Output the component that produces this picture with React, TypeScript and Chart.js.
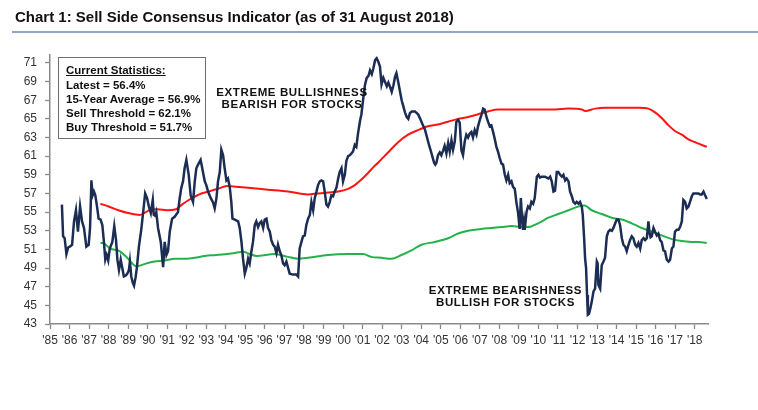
import React, { useEffect, useRef } from "react";
import { Chart, registerables } from "chart.js";
Chart.register(...registerables);

const indicatorYears = [
  1985.61, 1985.67, 1985.75, 1985.84, 1985.93, 1986.01, 1986.13, 1986.23, 1986.33, 1986.43, 1986.54, 1986.64, 1986.74, 1986.86, 1986.98,
  1987.05, 1987.12, 1987.18, 1987.25, 1987.32, 1987.42, 1987.49, 1987.59, 1987.68, 1987.76, 1987.83, 1987.9, 1987.98,
  1988.06, 1988.19, 1988.29, 1988.38, 1988.45, 1988.53, 1988.62, 1988.7, 1988.78, 1988.88, 1988.96,
  1989.04, 1989.09, 1989.16, 1989.24, 1989.3, 1989.38, 1989.45, 1989.55, 1989.67, 1989.79, 1989.87, 1989.97,
  1990.06, 1990.16, 1990.26, 1990.31, 1990.38, 1990.44, 1990.53, 1990.67, 1990.79, 1990.87, 1990.96,
  1991.04, 1991.13, 1991.25, 1991.38, 1991.55, 1991.64, 1991.72, 1991.81, 1991.89, 1991.98,
  1992.1, 1992.2, 1992.32, 1992.41, 1992.49, 1992.58, 1992.71, 1992.83, 1992.92,
  1993.0, 1993.09, 1993.23, 1993.35, 1993.43, 1993.52, 1993.6, 1993.69, 1993.77, 1993.86, 1993.94,
  1994.03, 1994.11, 1994.2, 1994.28, 1994.34, 1994.46, 1994.63, 1994.71, 1994.8, 1994.88, 1994.97,
  1995.05, 1995.14, 1995.22, 1995.31, 1995.39, 1995.48, 1995.56, 1995.65, 1995.73, 1995.82, 1995.91, 1995.99,
  1996.08, 1996.16, 1996.25, 1996.33, 1996.42, 1996.5, 1996.59, 1996.67, 1996.76, 1996.84, 1996.93,
  1997.01, 1997.1, 1997.19, 1997.27, 1997.44, 1997.61, 1997.7, 1997.78, 1997.87, 1997.95,
  1998.04, 1998.12, 1998.21, 1998.3, 1998.38, 1998.47, 1998.55, 1998.64, 1998.72, 1998.81, 1998.89, 1998.98,
  1999.06, 1999.15, 1999.23, 1999.32, 1999.4, 1999.49, 1999.57, 1999.66, 1999.75, 1999.83, 1999.92,
  2000.0, 2000.09, 2000.17, 2000.26, 2000.34, 2000.43, 2000.51, 2000.6, 2000.68, 2000.77, 2000.87, 2000.94,
  2001.04, 2001.12, 2001.21, 2001.3, 2001.38, 2001.47, 2001.55, 2001.64, 2001.72, 2001.81, 2001.89, 2001.97,
  2002.06, 2002.14, 2002.24, 2002.32, 2002.41, 2002.49, 2002.58, 2002.66, 2002.73, 2002.83, 2002.91,
  2003.0, 2003.08, 2003.17, 2003.26, 2003.34, 2003.42, 2003.52, 2003.68, 2003.84, 2003.95,
  2004.05, 2004.2, 2004.3, 2004.4, 2004.5, 2004.58, 2004.66, 2004.72, 2004.78, 2004.86, 2004.95,
  2005.03, 2005.12, 2005.2, 2005.29, 2005.38, 2005.46, 2005.55, 2005.63, 2005.72, 2005.8, 2005.89, 2005.97,
  2006.06, 2006.14, 2006.23, 2006.31, 2006.4, 2006.48, 2006.57, 2006.65, 2006.74, 2006.83, 2006.91,
  2007.0, 2007.08, 2007.17, 2007.25, 2007.34, 2007.42, 2007.51, 2007.59, 2007.68, 2007.76, 2007.85, 2007.93,
  2008.02, 2008.11, 2008.19, 2008.28, 2008.36, 2008.45, 2008.53, 2008.62, 2008.7, 2008.79, 2008.87, 2008.96,
  2009.04, 2009.1, 2009.15, 2009.21, 2009.26, 2009.3, 2009.39, 2009.47, 2009.56, 2009.64, 2009.73, 2009.81, 2009.92,
  2010.0, 2010.08, 2010.17, 2010.34, 2010.51, 2010.6, 2010.68, 2010.77, 2010.85, 2010.94,
  2011.02, 2011.11, 2011.2, 2011.28, 2011.37, 2011.45, 2011.54, 2011.62, 2011.71, 2011.79, 2011.88, 2011.96,
  2012.05, 2012.13, 2012.22, 2012.27, 2012.34, 2012.39, 2012.44, 2012.49, 2012.53, 2012.59, 2012.66, 2012.73, 2012.82, 2012.9, 2012.99,
  2013.03, 2013.07, 2013.16, 2013.24, 2013.33, 2013.41, 2013.5, 2013.58, 2013.67, 2013.76, 2013.84, 2013.93,
  2014.01, 2014.1, 2014.18, 2014.27, 2014.35, 2014.44, 2014.52, 2014.61, 2014.69, 2014.78, 2014.86, 2014.95,
  2015.03, 2015.12, 2015.21, 2015.29, 2015.38, 2015.46, 2015.55, 2015.63, 2015.68, 2015.74, 2015.8, 2015.89, 2015.97,
  2016.06, 2016.14, 2016.23, 2016.31, 2016.4, 2016.48, 2016.57, 2016.66, 2016.74, 2016.83, 2016.91, 2016.99,
  2017.08, 2017.17, 2017.25, 2017.34, 2017.42, 2017.51, 2017.59, 2017.68, 2017.76, 2017.85, 2017.93,
  2018.02, 2018.19, 2018.27, 2018.36, 2018.45, 2018.53, 2018.62,
];
const indicatorValues = [
  55.8, 52.4, 52.2, 50.5, 51.2, 51.3, 51.5, 54.0, 55.2, 52.9, 55.6, 54.0, 53.3, 51.3, 51.5,
  53.3, 58.4, 56.8, 57.2, 56.8, 55.4, 54.3, 54.2, 53.6, 51.8, 49.9, 50.4, 49.8,
  51.1, 51.8, 53.5, 52.0, 49.9, 48.8, 49.9, 49.0, 48.1, 48.2, 48.4,
  48.8, 49.7, 48.1, 47.4, 47.1, 48.0, 49.1, 51.3, 53.1, 55.4, 57.0, 56.5,
  55.6, 54.9, 56.3, 54.7, 54.6, 55.0, 53.3, 51.8, 49.1, 51.8, 50.4,
  50.8, 52.9, 54.3, 54.5, 55.0, 56.5, 57.6, 58.3, 59.7, 60.6,
  59.0, 56.8, 56.1, 58.3, 59.7, 60.1, 60.6, 59.3, 58.3,
  57.9, 57.2, 56.5, 56.0, 55.4, 56.5, 58.3, 59.3, 61.7, 61.1, 59.7,
  58.4, 58.6, 57.7, 56.1, 54.3, 54.2, 54.0, 53.3, 51.8, 50.0, 48.4,
  49.0, 50.0, 49.5, 50.8, 51.8, 53.6, 54.0, 53.4, 53.8, 54.0, 53.3, 54.2,
  54.3, 53.3, 52.9, 52.0, 51.5, 51.3, 50.6, 51.5, 50.8, 50.4, 49.5,
  49.3, 49.7, 49.0, 48.4, 48.3, 48.3, 48.1, 51.1, 51.8, 52.4,
  52.5, 53.6, 54.3, 54.7, 56.1, 55.2, 56.5, 57.2, 57.9, 58.3, 58.4, 58.3,
  57.2, 55.8, 55.6, 56.1, 56.8, 56.7, 57.2, 57.6, 58.6, 59.3, 59.7,
  58.3, 59.0, 60.5, 61.0, 61.1, 61.3, 61.5, 62.2, 62.0, 63.5, 64.8, 65.5,
  67.3, 68.6, 69.4, 69.6, 70.2, 69.8, 70.4, 71.3, 71.5, 71.1, 70.6, 68.7,
  69.4, 69.0, 68.5, 68.9, 68.4, 67.9, 68.6, 69.5, 69.9, 68.9, 68.0,
  67.0, 66.4, 65.7, 65.2, 65.0, 65.6, 65.8, 65.8, 65.5, 65.0,
  64.5, 63.8, 63.0, 62.2, 61.5, 60.9, 60.3, 60.1, 60.3, 61.1, 61.4,
  61.1, 61.6, 62.1, 61.3, 62.4, 61.5, 62.7, 61.7, 62.6, 64.7, 64.9, 64.6,
  61.6, 61.1, 62.6, 63.3, 63.0, 63.4, 63.6, 63.0, 63.8, 63.3, 64.2,
  64.9, 65.4, 66.1, 66.0, 65.2, 64.7, 64.2, 64.3, 63.6, 62.9, 62.0, 61.5,
  60.8, 60.2, 60.1, 59.0, 58.4, 59.0, 58.1, 58.3, 57.7, 57.5, 56.1, 54.9,
  53.2, 56.5, 54.7, 53.1, 54.0, 53.1, 55.0, 55.6, 55.4, 56.1, 55.9, 56.5, 58.8,
  59.0, 58.7, 58.8, 58.8, 58.6, 58.8, 58.3, 57.2, 57.3, 59.3,
  59.3, 59.0, 58.8, 59.0, 58.4, 58.6, 58.3, 57.2, 56.7, 56.1, 55.9, 56.1,
  55.9, 56.1, 55.6, 54.7, 52.2, 50.0, 49.0, 46.1, 44.0, 44.1, 44.7, 45.4, 46.5, 46.8, 49.7,
  49.5, 47.2, 46.8, 49.3, 49.7, 50.1, 52.4, 52.9, 53.1, 53.0, 53.3, 53.8,
  54.2, 54.2, 53.6, 52.2, 51.5, 51.3, 50.8, 51.5, 52.0, 52.4, 52.2, 51.5,
  51.3, 51.7, 51.1, 52.0, 52.2, 52.0, 52.2, 54.0, 52.9, 52.3, 52.4, 53.3, 52.9,
  52.5, 52.7, 52.0, 51.8, 50.9, 50.8, 49.9, 49.7, 49.9, 51.1, 51.3, 52.9,
  53.1, 53.1, 53.4, 54.0, 56.3, 56.1, 55.4, 55.6, 56.1, 56.7, 57.0,
  57.0, 57.0, 56.9, 56.9, 57.2, 56.8, 56.4,
];

const sellYears = [
  1987.58, 1988.0, 1988.5, 1989.0, 1989.6, 1989.9, 1990.2, 1990.5, 1991.0, 1991.45, 1991.75, 1992.1, 1992.45, 1992.75,
  1993.1, 1993.6, 1994.05, 1994.6, 1995.14, 1996.16, 1997.18, 1998.21, 1998.72, 1999.23, 1999.75, 2000.26, 2000.6,
  2000.94, 2001.28, 2001.54, 2001.79, 2002.3, 2002.82, 2003.33, 2003.84, 2004.35, 2004.86, 2005.38, 2005.89, 2006.4,
  2006.91, 2007.42, 2007.93, 2008.45, 2008.96, 2009.47, 2009.98, 2010.85, 2011.54, 2012.22, 2012.39, 2012.9, 2013.41,
  2014.44, 2015.12, 2015.63, 2015.97, 2016.31, 2016.66, 2016.99, 2017.34, 2017.68, 2018.02, 2018.36, 2018.62,
];
const sellValues = [
  55.9, 55.6, 55.2, 54.9, 54.7, 55.0, 55.3, 55.3, 55.2, 55.3, 55.8, 56.3, 56.7, 57.0,
  57.2, 57.5, 57.8, 57.7, 57.6, 57.4, 57.2, 56.9, 57.0, 57.1, 57.2, 57.5, 57.9,
  58.5, 59.2, 59.8, 60.3, 61.4, 62.5, 63.3, 63.8, 64.2, 64.4, 64.7, 65.0, 65.2,
  65.5, 65.8, 66.0, 66.0, 66.0, 66.0, 66.0, 66.0, 66.1, 66.0, 65.85, 66.1, 66.2,
  66.2, 66.2, 66.1, 65.7, 65.1, 64.3, 63.7, 63.3, 62.8, 62.5, 62.2, 62.0,
];

const buyYears = [
  1987.58, 1987.8, 1988.07, 1988.58, 1989.0, 1989.42, 1989.94, 1990.36, 1990.87, 1991.38, 1992.0, 1992.41, 1992.92,
  1993.5, 1994.38, 1994.89, 1995.23, 1995.57, 1996.5, 1997.18, 1997.7, 1998.21, 1999.23, 2000.26, 2001.03, 2001.45,
  2001.96, 2002.47, 2002.99, 2003.5, 2004.01, 2004.69, 2005.38, 2005.89, 2006.4, 2007.08, 2007.59, 2008.11, 2008.62,
  2009.13, 2009.47, 2009.98, 2010.17, 2010.51, 2011.02, 2011.54, 2012.05, 2012.36, 2012.73, 2013.24, 2013.75, 2014.27,
  2014.78, 2015.29, 2015.8, 2016.31, 2016.83, 2017.34, 2017.85, 2018.36, 2018.62,
];
const buyValues = [
  51.7, 51.6, 51.1, 50.8, 50.0, 49.2, 49.5, 49.7, 49.8, 50.0, 50.0, 50.1, 50.3,
  50.4, 50.6, 50.75, 50.5, 50.3, 50.5, 50.2, 50.0, 50.1, 50.4, 50.5, 50.5, 50.2,
  50.1, 50.0, 50.4, 50.9, 51.5, 51.8, 52.2, 52.7, 53.0, 53.2, 53.3, 53.4, 53.5,
  53.4, 53.4, 53.8, 54.0, 54.4, 54.8, 55.2, 55.6, 55.7, 55.2, 54.8, 54.4, 54.2,
  53.8, 53.3, 52.9, 52.5, 52.1, 51.9, 51.8, 51.76, 51.7,
];

const yTicks = [43, 45, 47, 49, 51, 53, 55, 57, 59, 61, 63, 65, 67, 69, 71];
const xTickYears = [
  1985, 1986, 1987, 1988, 1989, 1990, 1991, 1992, 1993, 1994, 1995, 1996, 1997, 1998, 1999, 2000, 2001,
  2002, 2003, 2004, 2005, 2006, 2007, 2008, 2009, 2010, 2011, 2012, 2013, 2014, 2015, 2016, 2017, 2018,
];
const xTickLabels = [
  "'85", "'86", "'87", "'88", "'89", "'90", "'91", "'92", "'93", "'94", "'95", "'96", "'97", "'98", "'99", "'00", "'01",
  "'02", "'03", "'04", "'05", "'06", "'07", "'08", "'09", "'10", "'11", "'12", "'13", "'14", "'15", "'16", "'17", "'18",
];

const titleText = "Chart 1: Sell Side Consensus Indicator (as of 31 August 2018)";
const statsTitle = "Current Statistics:";
const statsLines = [
  "Latest = 56.4%",
  "15-Year Average = 56.9%",
  "Sell Threshold = 62.1%",
  "Buy Threshold = 51.7%",
];
const noteTop = ["EXTREME BULLISHNESS", "BEARISH FOR STOCKS"];
const noteBottom = ["EXTREME BEARISHNESS", "BULLISH FOR STOCKS"];

const FONT = "'Liberation Sans', Arial, Helvetica, sans-serif";

function toPoints(xs: number[], ys: number[]) {
  return xs.map((x, i) => ({ x, y: ys[i] }));
}

export default function App() {
  const canvasRef = useRef<HTMLCanvasElement | null>(null);

  useEffect(() => {
    const canvas = canvasRef.current;
    if (!canvas) return;
    const chart = new Chart(canvas, {
      type: "line",
      data: {
        datasets: [
          {
            data: toPoints(indicatorYears, indicatorValues),
            borderColor: "#1b2d52",
            borderWidth: 2.5,
            pointRadius: 0,
            tension: 0,
            fill: false,
          },
          {
            data: toPoints(sellYears, sellValues),
            borderColor: "#ff1414",
            borderWidth: 2,
            pointRadius: 0,
            cubicInterpolationMode: "monotone",
            fill: false,
          },
          {
            data: toPoints(buyYears, buyValues),
            borderColor: "#24b24a",
            borderWidth: 2,
            pointRadius: 0,
            cubicInterpolationMode: "monotone",
            fill: false,
          },
        ],
      },
      options: {
        responsive: false,
        animation: false,
        layout: { padding: { left: 0, top: 55, right: 50, bottom: 0 } },
        plugins: { legend: { display: false }, tooltip: { enabled: false } },
        scales: {
          x: {
            type: "linear",
            min: 1985,
            max: 2018.68,
            afterFit: (s: any) => {
              s.height = 86;
            },
            afterBuildTicks: (s: any) => {
              s.ticks = xTickYears.map((v) => ({ value: v }));
            },
            ticks: {
              autoSkip: false,
              maxRotation: 0,
              padding: 4,
              color: "#333333",
              font: { family: FONT, size: 12 },
              callback: (v: any) => {
                const i = xTickYears.indexOf(Number(v));
                return i >= 0 ? xTickLabels[i] : "";
              },
            },
            grid: {
              drawOnChartArea: false,
              drawTicks: true,
              tickLength: 5,
              tickColor: "#8a8a8a",
              tickWidth: 1.3,
            },
            border: { display: true, color: "#8a8a8a", width: 1.5 },
          },
          y: {
            type: "linear",
            min: 43,
            max: 71.85,
            afterFit: (s: any) => {
              s.width = 50;
            },
            afterBuildTicks: (s: any) => {
              s.ticks = yTicks.map((v) => ({ value: v }));
            },
            ticks: {
              padding: 8,
              color: "#333333",
              font: { family: FONT, size: 12 },
              callback: (v: any) => String(v),
            },
            grid: {
              drawOnChartArea: false,
              drawTicks: true,
              tickLength: 5,
              tickColor: "#8a8a8a",
              tickWidth: 1.3,
            },
            border: { display: true, color: "#8a8a8a", width: 1.5 },
          },
        },
      },
    } as any);
    return () => chart.destroy();
  }, []);

  const statsTops = [80.4, 94, 108, 121.7];

  return (
    <div
      style={{
        position: "fixed",
        left: 0,
        top: 0,
        width: 758,
        height: 410,
        background: "#ffffff",
        fontFamily: FONT,
        overflow: "hidden",
      }}
    >
      <canvas
        ref={canvasRef}
        width={758}
        height={410}
        style={{ position: "absolute", left: 0, top: 0, width: 758, height: 410 }}
      />
      <div
        style={{
          position: "absolute",
          left: 15,
          top: 9,
          fontSize: 15,
          lineHeight: "15px",
          fontWeight: "bold",
          color: "#111111",
          whiteSpace: "nowrap",
        }}
      >
        {titleText}
      </div>
      <div
        style={{
          position: "absolute",
          left: 12,
          top: 31,
          width: 746,
          height: 1.6,
          background: "#8fa4c6",
        }}
      />
      <div
        style={{
          position: "absolute",
          left: 58,
          top: 57,
          width: 148,
          height: 82,
          border: "1.5px solid #6e6e6e",
          boxSizing: "border-box",
          background: "#ffffff",
        }}
      />
      <div
        style={{
          position: "absolute",
          left: 66,
          top: 64.7,
          fontSize: 11.5,
          lineHeight: "11px",
          fontWeight: "bold",
          color: "#111111",
          textDecoration: "underline",
          whiteSpace: "nowrap",
        }}
      >
        {statsTitle}
      </div>
      {statsLines.map((t, i) => (
        <div
          key={t}
          style={{
            position: "absolute",
            left: 66,
            top: statsTops[i],
            fontSize: 11.5,
            lineHeight: "11px",
            fontWeight: "bold",
            color: "#111111",
            whiteSpace: "nowrap",
          }}
        >
          {t}
        </div>
      ))}
      <div
        style={{
          position: "absolute",
          left: 192,
          top: 85.6,
          width: 200,
          textAlign: "center",
          fontSize: 11.5,
          lineHeight: "12.5px",
          fontWeight: "bold",
          letterSpacing: "0.6px",
          color: "#111111",
          whiteSpace: "nowrap",
        }}
      >
        {noteTop.map((t) => (
          <div key={t}>{t}</div>
        ))}
      </div>
      <div
        style={{
          position: "absolute",
          left: 405.5,
          top: 283.9,
          width: 200,
          textAlign: "center",
          fontSize: 11.5,
          lineHeight: "12.5px",
          fontWeight: "bold",
          letterSpacing: "0.6px",
          color: "#111111",
          whiteSpace: "nowrap",
        }}
      >
        {noteBottom.map((t) => (
          <div key={t}>{t}</div>
        ))}
      </div>
    </div>
  );
}
